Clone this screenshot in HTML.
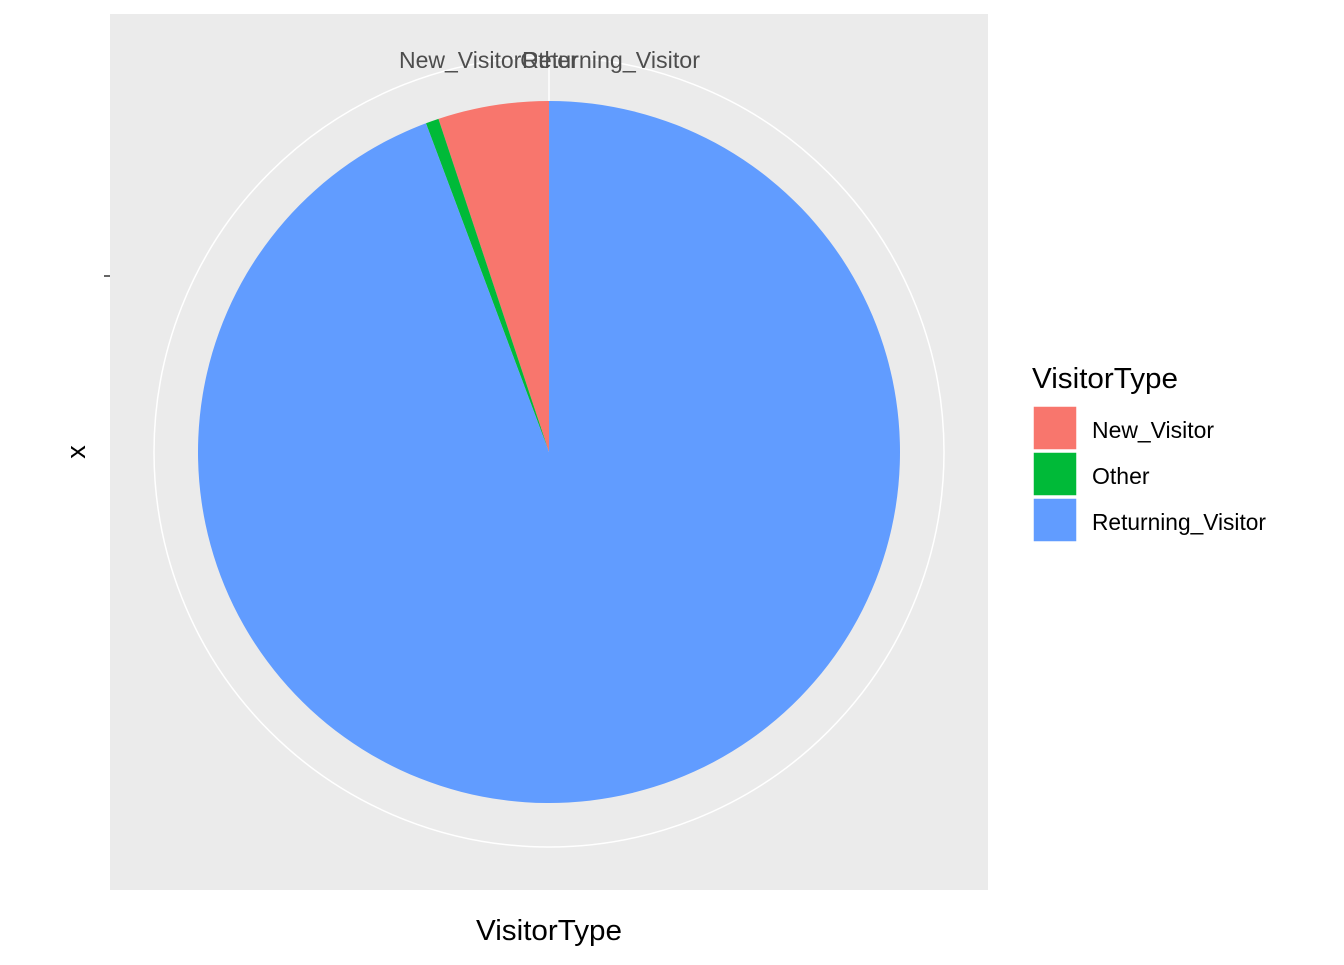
<!DOCTYPE html>
<html><head><meta charset="utf-8"><style>
body{margin:0;background:#fff;}
svg text{font-family:"Liberation Sans",Arial,sans-serif;}
</style></head><body>
<svg width="1344" height="960" xmlns="http://www.w3.org/2000/svg">
<rect x="0" y="0" width="1344" height="960" fill="#fff"/>
<rect x="110" y="14" width="878" height="876" fill="#EBEBEB"/>
<circle cx="549" cy="452" r="395" fill="none" stroke="#fff" stroke-width="1.5"/>
<line x1="549" y1="452" x2="549" y2="57" stroke="#fff" stroke-width="1.5"/>
<g id="slices"></g>
<text x="399" y="68" font-size="23" fill="#4D4D4D">New_Visitor</text>
<text x="549" y="68" font-size="23" fill="#4D4D4D" text-anchor="middle">Other</text>
<text x="522" y="68" font-size="23" fill="#4D4D4D" textLength="178" lengthAdjust="spacingAndGlyphs">Returning_Visitor</text>
<line x1="104" y1="276" x2="110" y2="276" stroke="#333" stroke-width="1.5"/>
<text transform="translate(85,452) rotate(-90)" font-size="27" fill="#000" text-anchor="middle">x</text>
<text x="476" y="940" font-size="29" fill="#000" textLength="146" lengthAdjust="spacingAndGlyphs">VisitorType</text>
<g>
<text x="1032" y="388" font-size="29" fill="#000" textLength="146" lengthAdjust="spacingAndGlyphs">VisitorType</text>
<rect x="1033" y="406" width="44" height="44" fill="#F8766D" stroke="#fff" stroke-width="1.5"/>
<rect x="1033" y="452" width="44" height="44" fill="#00BA38" stroke="#fff" stroke-width="1.5"/>
<rect x="1033" y="498" width="44" height="44" fill="#619CFF" stroke="#fff" stroke-width="1.5"/>
<text x="1092" y="438" font-size="23" fill="#000" textLength="122" lengthAdjust="spacingAndGlyphs">New_Visitor</text>
<text x="1092" y="484" font-size="23" fill="#000">Other</text>
<text x="1092" y="530" font-size="23" fill="#000" textLength="174" lengthAdjust="spacingAndGlyphs">Returning_Visitor</text>
</g>
</svg>
<script>
const categories = ["New_Visitor","Other","Returning_Visitor"];
const values = [5.1, 0.6, 94.3];
const colors = ["#F8766D","#00BA38","#619CFF"];
const cx=549, cy=452, R=351;
const total = values.reduce((a,b)=>a+b,0);
const g = document.getElementById('slices');
function pt(t){return [cx+R*Math.sin(t), cy-R*Math.cos(t)];}
let start = 0;
values.forEach((v,i)=>{
  const sweep = v/total*2*Math.PI;
  const a0 = start, a1 = start - sweep;
  const p0 = pt(a0), p1 = pt(a1);
  const large = sweep > Math.PI ? 1 : 0;
  const p = document.createElementNS('http://www.w3.org/2000/svg','path');
  p.setAttribute('d',`M${cx},${cy} L${p0[0]},${p0[1]} A${R},${R} 0 ${large} 0 ${p1[0]},${p1[1]} Z`);
  p.setAttribute('fill',colors[i]);
  
  
  g.appendChild(p);
  start = a1;
});
</script>
</body></html>
